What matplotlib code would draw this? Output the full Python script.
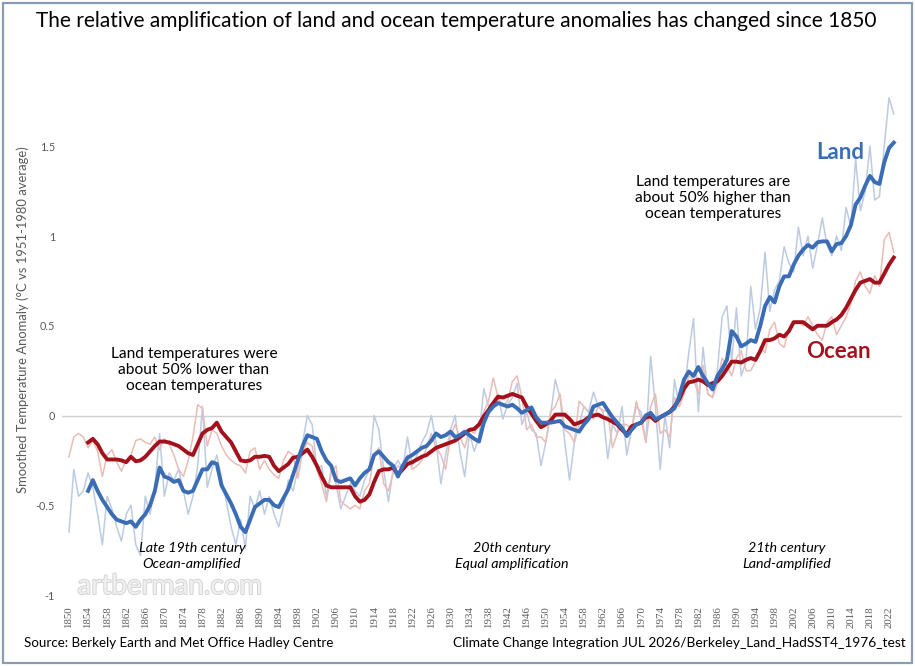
import matplotlib
matplotlib.use("Agg")
import matplotlib.pyplot as plt
from matplotlib.patches import Rectangle
import matplotlib.patheffects as pe

plt.rcParams['font.family'] = ['Lato', 'DejaVu Sans']

# ---------------- data ----------------
years_annual = list(range(1850, 2024))
land_annual = [
    -0.65, -0.30, -0.45, -0.42, -0.32, -0.40, -0.55, -0.72, -0.45, -0.52,   # 1850
    -0.62, -0.70, -0.55, -0.50, -0.72, -0.78, -0.45, -0.55, -0.40, -0.10,   # 1860
    -0.45, -0.32, -0.36, -0.30, -0.42, -0.55, -0.45, -0.28, 0.05, -0.40,    # 1870
    -0.30, -0.22, -0.35, -0.48, -0.62, -0.72, -0.58, -0.74, -0.45, -0.52,   # 1880
    -0.42, -0.55, -0.45, -0.55, -0.62, -0.50, -0.36, -0.42, -0.30, -0.15,   # 1890
    0.00, -0.05, -0.30, -0.28, -0.45, -0.30, -0.38, -0.52, -0.45, -0.38,    # 1900
    -0.42, -0.45, -0.36, -0.30, 0.00, -0.08, -0.30, -0.48, -0.30, -0.25,    # 1910
    -0.30, -0.12, -0.28, -0.22, -0.15, -0.10, 0.00, -0.15, -0.38, -0.22,    # 1920
    -0.08, 0.00, -0.20, -0.34, -0.10, -0.20, -0.12, 0.15, 0.05, 0.08,       # 1930
    0.12, -0.02, 0.06, 0.10, 0.18, -0.05, 0.02, -0.08, -0.10, -0.28,        # 1940
    -0.15, 0.00, 0.20, 0.10, -0.15, -0.36, -0.15, -0.05, 0.05, 0.02,        # 1950
    0.13, 0.05, 0.02, -0.24, -0.05, -0.10, 0.05, -0.22, -0.08, 0.05,        # 1960
    0.02, -0.15, 0.33, 0.05, -0.30, 0.00, -0.18, 0.20, 0.05, 0.12,          # 1970
    0.35, 0.54, 0.02, 0.38, 0.12, 0.10, 0.25, 0.55, 0.61, 0.30,             # 1980
    0.60, 0.22, 0.30, 0.72, 0.48, 0.60, 0.91, 0.58, 0.70, 0.75,             # 1990
    0.94, 0.85, 0.80, 1.05, 0.89, 1.00, 0.82, 0.95, 1.10, 0.95,             # 2000
    0.89, 1.00, 0.92, 1.16, 1.05, 1.43, 1.14, 1.25, 1.50, 1.20,             # 2010
    1.22, 1.50, 1.77, 1.68,                                                 # 2020
]
ocean_annual = [
    -0.23, -0.12, -0.10, -0.12, -0.18, -0.14, -0.20, -0.34, -0.22, -0.19,   # 1850
    -0.26, -0.31, -0.25, -0.22, -0.14, -0.13, -0.15, -0.16, -0.12, -0.19,   # 1860
    -0.13, -0.16, -0.22, -0.30, -0.34, -0.25, -0.12, 0.06, 0.04, -0.17,     # 1870
    -0.08, -0.10, -0.17, -0.22, -0.25, -0.27, -0.28, -0.32, -0.20, -0.18,   # 1880
    -0.30, -0.25, -0.30, -0.33, -0.35, -0.25, -0.20, -0.22, -0.35, -0.20,   # 1890
    -0.15, -0.17, -0.30, -0.38, -0.48, -0.32, -0.28, -0.48, -0.50, -0.52,   # 1900
    -0.50, -0.52, -0.42, -0.38, -0.22, -0.18, -0.38, -0.42, -0.32, -0.28,   # 1910
    -0.30, -0.22, -0.30, -0.28, -0.25, -0.18, -0.10, -0.18, -0.22, -0.30,   # 1920
    -0.12, -0.05, -0.12, -0.18, -0.08, -0.10, -0.05, 0.02, 0.08, 0.21,      # 1930
    0.10, 0.05, 0.08, 0.19, 0.22, 0.10, -0.08, -0.05, -0.12, -0.12,         # 1940
    -0.15, 0.02, 0.05, 0.12, -0.08, -0.10, -0.15, 0.08, 0.05, 0.02,         # 1950
    -0.02, 0.05, 0.03, 0.02, -0.18, -0.10, -0.05, -0.05, -0.08, 0.08,       # 1960
    -0.02, -0.15, 0.05, 0.12, -0.10, -0.08, -0.12, 0.10, 0.05, 0.12,        # 1970
    0.22, 0.20, 0.12, 0.28, 0.12, 0.10, 0.18, 0.32, 0.28, 0.22,             # 1980
    0.32, 0.36, 0.25, 0.25, 0.30, 0.38, 0.35, 0.48, 0.52, 0.40,             # 1990
    0.38, 0.48, 0.52, 0.52, 0.50, 0.55, 0.50, 0.45, 0.42, 0.52,             # 2000
    0.55, 0.45, 0.50, 0.55, 0.62, 0.75, 0.80, 0.72, 0.68, 0.78,             # 2010
    0.72, 0.98, 1.02, 0.91,                                                 # 2020
]

years_smooth = list(range(1854, 2024))
land_smooth = [
    -0.42, -0.36, -0.42, -0.47, -0.51, -0.55,                               # 1854
    -0.58, -0.59, -0.60, -0.59, -0.62, -0.58, -0.55, -0.50, -0.42, -0.29,   # 1860
    -0.34, -0.35, -0.37, -0.36, -0.42, -0.43, -0.42, -0.36, -0.30, -0.30,   # 1870
    -0.26, -0.27, -0.39, -0.44, -0.49, -0.55, -0.62, -0.65, -0.58, -0.51,   # 1880
    -0.49, -0.47, -0.47, -0.50, -0.51, -0.46, -0.41, -0.33, -0.25, -0.17,   # 1890
    -0.11, -0.12, -0.13, -0.20, -0.25, -0.28, -0.36, -0.37, -0.36, -0.35,   # 1900
    -0.39, -0.35, -0.32, -0.30, -0.22, -0.20, -0.23, -0.26, -0.28, -0.34,   # 1910
    -0.28, -0.235, -0.22, -0.20, -0.18, -0.17, -0.14, -0.10, -0.12, -0.11,  # 1920
    -0.09, -0.12, -0.11, -0.09, -0.11, -0.13, -0.145, -0.04, 0.02, 0.05,    # 1930
    0.07, 0.06, 0.05, 0.06, 0.04, 0.015, 0.03, 0.045, -0.01, -0.04,         # 1940
    -0.04, -0.04, -0.035, -0.03, -0.06, -0.07, -0.08, -0.09, -0.05, -0.02,  # 1950
    0.05, 0.06, 0.07, 0.03, -0.01, -0.04, -0.07, -0.115, -0.08, -0.05,      # 1960
    -0.04, 0.00, 0.015, -0.02, -0.01, 0.005, 0.02, 0.04, 0.105, 0.20,       # 1970
    0.245, 0.22, 0.27, 0.22, 0.18, 0.145, 0.22, 0.26, 0.31, 0.47,           # 1980
    0.44, 0.385, 0.40, 0.42, 0.41, 0.50, 0.61, 0.66, 0.63, 0.72,            # 1990
    0.775, 0.775, 0.84, 0.89, 0.925, 0.95, 0.935, 0.965, 0.97, 0.97,        # 2000
    0.915, 0.955, 0.96, 1.00, 1.06, 1.175, 1.215, 1.28, 1.335, 1.30,        # 2010
    1.29, 1.41, 1.49, 1.52,                                                 # 2020
]
ocean_smooth = [
    -0.15, -0.13, -0.16, -0.21, -0.245, -0.245,                             # 1854
    -0.245, -0.25, -0.26, -0.23, -0.255, -0.25, -0.23, -0.20, -0.17, -0.145,# 1860
    -0.145, -0.15, -0.16, -0.17, -0.19, -0.21, -0.22, -0.16, -0.10, -0.08,  # 1870
    -0.07, -0.04, -0.09, -0.12, -0.15, -0.20, -0.25, -0.255, -0.25, -0.23,  # 1880
    -0.23, -0.225, -0.23, -0.28, -0.31, -0.29, -0.27, -0.235, -0.23, -0.21, # 1890
    -0.19, -0.23, -0.28, -0.34, -0.39, -0.40, -0.40, -0.40, -0.40, -0.40,   # 1900
    -0.45, -0.48, -0.47, -0.44, -0.37, -0.31, -0.30, -0.30, -0.29, -0.33,   # 1910
    -0.30, -0.27, -0.26, -0.245, -0.23, -0.22, -0.20, -0.18, -0.17, -0.16,  # 1920
    -0.15, -0.14, -0.12, -0.10, -0.08, -0.075, -0.05, -0.005, 0.03, 0.07,   # 1930
    0.105, 0.10, 0.11, 0.12, 0.11, 0.10, 0.05, 0.01, -0.03, -0.065,         # 1940
    -0.05, -0.03, 0.005, 0.005, 0.005, -0.02, -0.05, -0.04, -0.03, -0.01,   # 1950
    0.00, 0.005, -0.01, -0.02, -0.035, -0.05, -0.08, -0.105, -0.06, -0.05,  # 1960
    -0.04, -0.01, -0.005, -0.03, -0.01, 0.005, 0.02, 0.05, 0.09, 0.15,      # 1970
    0.185, 0.19, 0.20, 0.19, 0.17, 0.18, 0.19, 0.22, 0.26, 0.30,            # 1980
    0.30, 0.295, 0.31, 0.32, 0.31, 0.36, 0.42, 0.42, 0.43, 0.45,            # 1990
    0.44, 0.47, 0.52, 0.52, 0.52, 0.50, 0.48, 0.50, 0.50, 0.50,             # 2000
    0.52, 0.535, 0.56, 0.60, 0.65, 0.70, 0.74, 0.75, 0.76, 0.74,            # 2010
    0.74, 0.79, 0.84, 0.88,                                                 # 2020
]

xtick_years = list(range(1850, 2023, 4))
ytick_values = [-1, -0.5, 0, 0.5, 1, 1.5]
ytick_labels = ['-1', '-0.5', '0', '0.5', '1', '1.5']

# ---------------- style ----------------
LAND = '#3a6db5'
OCEAN = '#a3121c'
LAND_FAINT = '#bccbe2'
OCEAN_FAINT = '#ebbcb6'
TICK_COL = '#595959'

W, H = 915, 666
fig = plt.figure(figsize=(W / 100, H / 100), dpi=100)

x0, x1 = 1848.5, 2024.7
y0, y1 = -1.0, 1.85
px_per_year = (889 - 69) / 172.0
px_per_unit = 179.5
left_px = 69 - (1850 - x0) * px_per_year
right_px = 889 + (x1 - 2022) * px_per_year
bottom_px = 595
top_px = 595 - (y1 - y0) * px_per_unit
ax = fig.add_axes([left_px / W, (H - bottom_px) / H,
                   (right_px - left_px) / W, (bottom_px - top_px) / H])
ax.set_xlim(x0, x1)
ax.set_ylim(y0, y1)

ax.axhline(0, color='#d0d0d0', lw=1.0, zorder=1)

ax.plot(years_annual, land_annual, color=LAND_FAINT, lw=1.1, zorder=2, clip_on=False)
ax.plot(years_annual, ocean_annual, color=OCEAN_FAINT, lw=1.1, zorder=2, clip_on=False)
ax.plot(years_smooth, land_smooth, color=LAND, lw=2.8, zorder=4,
        solid_joinstyle='round', clip_on=False)
ax.plot(years_smooth, ocean_smooth, color=OCEAN, lw=2.8, zorder=3,
        solid_joinstyle='round', clip_on=False)

for s in ax.spines.values():
    s.set_visible(False)
ax.set_xticks(xtick_years)
ax.set_xticklabels([str(y) for y in xtick_years], rotation=90,
                   fontsize=7.8, color=TICK_COL, fontfamily='Liberation Serif')
ax.set_yticks(ytick_values)
ax.set_yticklabels(ytick_labels, fontsize=7.8, color=TICK_COL)
ax.tick_params(axis='both', length=0)
ax.tick_params(axis='x', pad=8)
ax.tick_params(axis='y', pad=5)

ax.set_ylabel('Smoothed Temperature Anomaly (°C vs 1951-1980 average)',
              fontsize=9.4, color=TICK_COL)
ax.yaxis.set_label_coords((29 - left_px) / (right_px - left_px),
                          (595 - 320) / (595 - top_px))

# ---------------- text ----------------
def data_from_px(px, py):
    return (x0 + (px - left_px) / px_per_year, (595 - py) / px_per_unit - 1.0)

def ptext(px, py, s, **kw):
    x, y = data_from_px(px, py)
    ax.text(x, y, s, **kw)

ptext(194, 370, 'Land temperatures were\nabout 50% lower than\nocean temperatures',
      ha='center', va='center', fontsize=11.2, color='black', linespacing=1.2)
ptext(713, 198, 'Land temperatures are\nabout 50% higher than\nocean temperatures',
      ha='center', va='center', fontsize=11.2, color='black', linespacing=1.2)
ptext(192, 556, 'Late 19th century\nOcean-amplified', ha='center', va='center',
      fontsize=10.3, style='italic', color='black', linespacing=1.3)
ptext(512, 556, '20th century\nEqual amplification', ha='center', va='center',
      fontsize=10.3, style='italic', color='black', linespacing=1.3)
ptext(787, 556, '21th century\nLand-amplified', ha='center', va='center',
      fontsize=10.3, style='italic', color='black', linespacing=1.3)
ptext(840, 152, 'Land', ha='center', va='center', fontsize=16,
      fontweight='bold', color=LAND)
ptext(838, 351, 'Ocean', ha='center', va='center', fontsize=16,
      fontweight='bold', color=OCEAN)

wx, wy = data_from_px(170, 586)
ax.text(wx, wy, 'artberman.com', ha='center', va='center', fontsize=20,
        color='#f0f0f0', zorder=0.5,
        path_effects=[pe.withStroke(linewidth=1.3, foreground='#d2d2d2')])

fig.text(456 / W, 1 - 21 / H,
         'The relative amplification of land and ocean temperature anomalies has changed since 1850',
         ha='center', va='center', fontsize=15, color='black')
fig.text(24 / W, 1 - 643 / H, 'Source: Berkely Earth and Met Office Hadley Centre',
         ha='left', va='center', fontsize=9.6, color='black')
fig.text(906 / W, 1 - 643 / H,
         'Climate Change Integration JUL 2026/Berkeley_Land_HadSST4_1976_test',
         ha='right', va='center', fontsize=9.9, color='black')

fig.patches.append(Rectangle((2.5 / W, 3 / H), (W - 5.5) / W, (H - 6) / H,
                             transform=fig.transFigure, fill=False,
                             edgecolor='#8a9db3', lw=1.6))

fig.savefig('out.png', dpi=100)
